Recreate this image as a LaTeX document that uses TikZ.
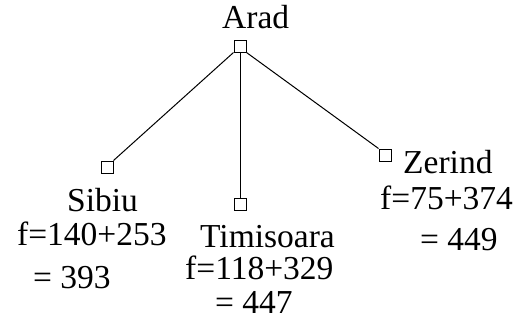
\documentclass[tikz,border=0pt]{standalone}
\usepackage{fontspec}
\setmainfont{Liberation Serif}
\usepackage{tikz}
\tikzstyle{treenode} = [rectangle, draw, line width=1pt, inner sep=0pt, minimum size=12pt, fill=white]
\tikzstyle{label} = [anchor=base west, inner sep=0pt, font=\fontsize{33.5}{38}\selectfont]
\tikzstyle{edge} = [draw, line width=1pt]

\begin{document}
\begin{tikzpicture}[x=1pt, y=-1pt]
    \useasboundingbox (0, 0) rectangle (517, 325);

    % root
    \node[treenode] at (240, 46) (arad) {};
    \node[label] at (222, 28) (aradtext) {Arad};

    % children
    \node[treenode] at (107, 167) (sibiu) {};
    \node[label] at (67, 211) (sibiutext) {Sibiu};
    \node[label] at (17, 245) (sibiuf) {f=140+253};
    \node[label] at (33, 288) (sibiuval) {= 393};

    \node[treenode] at (240, 204) (timisoara) {};
    \node[label] at (200, 247) (timisoaratext) {Timisoara};
    \node[label] at (185, 279) (timisoaraf) {f=118+329};
    \node[label] at (215, 313) (timisoaraval) {= 447};

    \node[treenode] at (385, 155) (zerind) {};
    \node[label] at (403, 173) (zerindtext) {Zerind};
    \node[label] at (380, 209) (zerindf) {f=75+374};
    \node[label] at (420, 250) (zerindval) {= 449};

    \path[edge] (arad.south west) -- (sibiu.north east);
    \path[edge] (arad.south) -- (timisoara.north);
    \path[edge] (arad.south east) -- (zerind.north west);
\end{tikzpicture}
\end{document}
